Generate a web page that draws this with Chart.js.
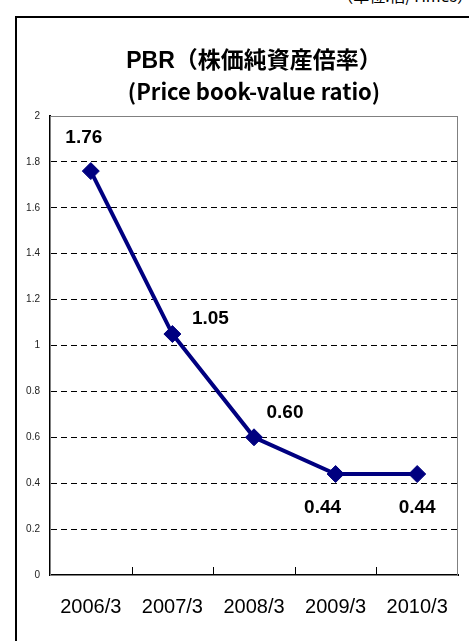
<!DOCTYPE html>
<html>
<head>
<meta charset="utf-8">
<script src="https://cdn.jsdelivr.net/npm/chart.js@4.4.1/dist/chart.umd.min.js"></script>
<style>
  html, body { margin: 0; padding: 0; background: #fff; overflow: hidden; }
  #wrap { position: relative; width: 469px; height: 641px; }
  #frame { position: absolute; left: 15px; top: 16px; width: 500px; height: 700px;
           border-left: 2px solid #000; border-top: 2px solid #000; box-sizing: border-box; }
  #unit { position: absolute; right: -4px; top: -17px; font: 16px "Noto Sans CJK JP", sans-serif; color: #000; white-space: nowrap; }
  canvas { position: absolute; left: 0; top: 0; }
</style>
</head>
<body>
<div id="wrap">
  <div id="frame"></div>
  <div id="unit">（単位:倍/Times）</div>
  <canvas id="pbrChart" width="469" height="641"></canvas>
</div>
<script>
const categories = ['2006/3', '2007/3', '2008/3', '2009/3', '2010/3'];
const pbr = [1.76, 1.05, 0.60, 0.44, 0.44];
const yTicks = ['0', '0.2', '0.4', '0.6', '0.8', '1', '1.2', '1.4', '1.6', '1.8', '2'];
const titleLines = ['PBR（株価純資産倍率）', '(Price book-value ratio)'];

// where each value label sits relative to its point
const labelShift = [[-7, -33], [38, -15], [31, -25], [-13, 34], [0, 34]];

const frame = {
  id: 'frame',
  beforeDatasetsDraw(chart) {
    const { ctx, chartArea: a } = chart;
    ctx.save();
    ctx.strokeStyle = '#808080';
    ctx.lineWidth = 1;
    ctx.strokeRect(a.left + 0.5, a.top + 0.5, a.right - a.left - 1, a.bottom - a.top);
    // small category ticks inside the x axis
    const x = chart.scales.x;
    const half = (x.getPixelForValue(1) - x.getPixelForValue(0)) / 2;
    ctx.strokeStyle = '#000';
    ctx.beginPath();
    for (let i = 1; i < categories.length; i++) {
      const px = Math.round(x.getPixelForValue(i) - half) + 0.5;
      ctx.moveTo(px, a.bottom);
      ctx.lineTo(px, a.bottom - 8);
    }
    ctx.stroke();
    ctx.restore();
  },
  afterDraw(chart) {
    const { ctx, chartArea: a } = chart;
    ctx.save();
    ctx.fillStyle = '#000';
    ctx.textAlign = 'center';
    ctx.textBaseline = 'middle';
    const cx = (a.left + a.right) / 2;
    ctx.font = 'bold 23px "Liberation Sans", "Noto Sans CJK JP"';
    ctx.fillText(titleLines[0], cx, 62);
    ctx.font = 'bold 22px "Noto Sans CJK JP"';
    ctx.fillText(titleLines[1], cx, 92);
    // value labels
    ctx.font = 'bold 19px "Liberation Sans"';
    const meta = chart.getDatasetMeta(0);
    meta.data.forEach((pt, i) => {
      ctx.fillText(pbr[i].toFixed(2), pt.x + labelShift[i][0], pt.y + labelShift[i][1]);
    });
    ctx.restore();
  }
};

new Chart(document.getElementById('pbrChart'), {
  type: 'line',
  data: {
    labels: categories,
    datasets: [{
      data: pbr,
      borderColor: '#000080', borderWidth: 4,
      pointStyle: 'rectRot', pointRadius: 8.5,
      pointBackgroundColor: '#000080', pointBorderColor: '#000080', pointBorderWidth: 1,
      tension: 0
    }]
  },
  options: {
    responsive: false, animation: false,
    layout: { padding: { top: 116, right: 11, left: 0, bottom: 0 } },
    plugins: { legend: { display: false }, tooltip: { enabled: false } },
    scales: {
      x: {
        offset: true,
        grid: { display: false, drawTicks: false },
        border: { display: true, color: '#000', width: 2 },
        ticks: { padding: 20, color: '#000', font: { size: 20, family: 'Liberation Sans' }, maxRotation: 0 },
        afterFit: s => { s.height = 66; }
      },
      y: {
        min: 0, max: 2,
        grid: { color: '#000', lineWidth: 1, drawTicks: false, z: 0 },
        border: { display: true, color: '#000', width: 2, dash: [6, 4] },
        ticks: { stepSize: 0.2, padding: 10, color: '#222', font: { size: 10, family: 'Liberation Sans' },
                 callback: (v, i) => yTicks[i] },
        afterFit: s => { s.width = 50; }
      }
    }
  },
  plugins: [frame]
});
</script>
</body>
</html>
